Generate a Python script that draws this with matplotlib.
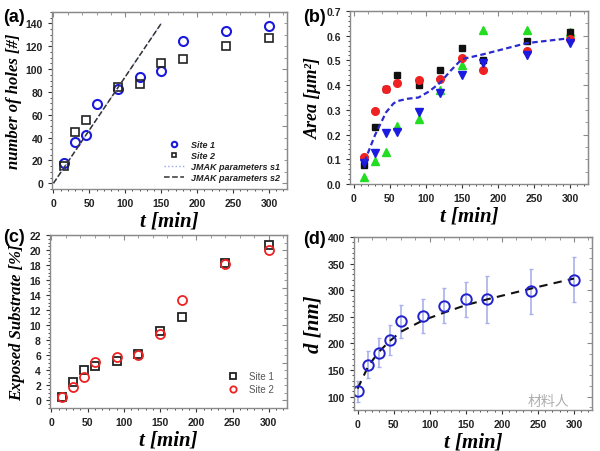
import numpy as np
import matplotlib
matplotlib.use('Agg')
import matplotlib.pyplot as plt

plt.rcParams['font.family'] = ['Liberation Sans', 'DejaVu Sans']
plt.rcParams['font.weight'] = 'bold'

# (a) number of holes
t_a1 = [15, 30, 45, 60, 90, 120, 150, 180, 240, 300]
holes_s1 = [18, 36, 42, 69, 83, 93, 98, 125, 133, 138]
t_a2 = [15, 30, 45, 90, 120, 150, 180, 240, 300]
holes_s2 = [15, 45, 55, 84, 87, 105, 109, 120, 127]
jmak_t = [0, 150]
jmak_s1 = [0, 140]
jmak_s2 = [0, 140]

# (b) area
t_b = [15, 30, 45, 60, 90, 120, 150, 180, 240, 300]
area_sq = [0.075, 0.23, 0.385, 0.44, 0.40, 0.46, 0.55, 0.50, 0.58, 0.615]
area_ci = [0.11, 0.295, 0.385, 0.41, 0.42, 0.425, 0.51, 0.46, 0.54, 0.585]
area_up = [0.03, 0.095, 0.13, 0.235, 0.265, 0.38, 0.48, 0.625, 0.625, 0.615]
area_dn = [0.085, 0.125, 0.205, 0.21, 0.29, 0.37, 0.44, 0.49, 0.52, 0.57]
mean_t = [15, 30, 45, 55, 60, 75, 90, 105, 120, 135, 150, 180, 240, 300]
mean_area = [0.09, 0.2, 0.29, 0.325, 0.335, 0.345, 0.35, 0.375, 0.41, 0.46, 0.505, 0.525, 0.57, 0.59]

# (c) exposed substrate
t_c = [15, 30, 45, 60, 90, 120, 150, 180, 240, 300]
exp_s1 = [0.5, 2.5, 4.1, 4.6, 5.3, 6.2, 9.2, 11.1, 18.3, 20.7]
exp_s2 = [0.4, 1.8, 3.1, 5.1, 5.8, 6.0, 8.8, 13.4, 18.1, 20.0]

# (d) diameter
t_d = [0, 15, 30, 45, 60, 90, 120, 150, 180, 240, 300]
d_val = [110, 160, 183, 207, 242, 251, 271, 283, 283, 298, 320]
d_err = [20, 25, 27, 28, 31, 32, 33, 33, 44, 42, 43]
fit_t = [0, 15, 30, 45, 60, 90, 120, 150, 180, 240, 300]
fit_d = [115, 158, 185, 205, 222, 243, 258, 272, 283, 303, 322]

fig = plt.figure(figsize=(6, 4.52), dpi=100)
W, H = 600, 452

def make_ax(l, r, t, b):
    return fig.add_axes([l / W, 1 - b / H, (r - l) / W, (b - t) / H])

lab_font = dict(family='Liberation Serif', weight='bold', style='italic')
frame = '#8a8a8a'

def style(ax, xlabel, ylabel, ylsize=13):
    for s in ax.spines.values():
        s.set_color(frame)
        s.set_linewidth(1.0)
    ax.tick_params(which='both', direction='out', colors='#333333', labelsize=7.5,
                   labelcolor='#222222', top=False, right=False)
    ax.tick_params(which='major', length=3)
    ax.tick_params(which='minor', length=1.5)
    ax.minorticks_on()
    sec = ax.secondary_yaxis('right')
    sec.tick_params(which='both', direction='in', labelright=False, colors=frame)
    sec.minorticks_on()
    sec.spines['right'].set_color(frame)
    sec2 = ax.secondary_xaxis('top')
    sec2.tick_params(which='both', direction='in', labeltop=False, colors=frame)
    sec2.minorticks_on()
    sec2.spines['top'].set_color(frame)
    ax.set_xlabel(xlabel, fontsize=15, labelpad=2, **lab_font)
    ax.set_ylabel(ylabel, fontsize=ylsize, labelpad=3, **lab_font)

# (a)
ax = make_ax(52, 287, 13, 190)
ax.plot(t_a1, holes_s1, 'o', ms=6.5, mfc='none', mec='#1a1adc', mew=1.5, label='Site 1')
ax.plot(t_a2, holes_s2, 's', ms=5.5, mfc='none', mec='#222222', mew=1.2, label='Site 2')
ax.plot(jmak_t, jmak_s1, ':', color='#9aa8e8', lw=1, label='JMAK parameters s1')
ax.plot(jmak_t, jmak_s2, '--', color='#333333', lw=1.1, label='JMAK parameters s2')
ax.set_xlim(-2, 325)
ax.set_ylim(-5, 150)
ax.set_xticks([0, 50, 100, 150, 200, 250, 300])
ax.set_yticks([0, 20, 40, 60, 80, 100, 120, 140])
style(ax, 't [min]', 'number of holes [#]', 12)
leg = ax.legend(loc='lower right', frameon=False, markerscale=0.6,
                handlelength=2.2, labelspacing=0.2, borderaxespad=0.4,
                prop=dict(family='Liberation Sans', weight='bold', style='italic', size=6.5))
for tx in leg.get_texts():
    tx.set_color('#222222')

# (b)
ax = make_ax(350, 588, 12, 185)
ax.plot(t_b, area_up, '^', ms=5.5, color='#22dd22', ls='none')
ax.plot(t_b, area_sq, 's', ms=5, color='#111111', ls='none')
ax.plot(t_b, area_ci, 'o', ms=5.5, color='#ee2222', ls='none')
ax.plot(t_b, area_dn, 'v', ms=5.5, color='#1a1ae0', ls='none')
ax.plot(mean_t, mean_area, '--', color='#2a2ad0', lw=1.6, dashes=(2.5, 1.5))
ax.set_xlim(-5, 325)
ax.set_ylim(0, 0.7)
ax.set_xticks([0, 50, 100, 150, 200, 250, 300])
ax.set_yticks(np.arange(0, 0.71, 0.1))
style(ax, 't [min]', 'Area [μm²]', 13)

# (c)
ax = make_ax(50, 287, 236, 409)
ax.plot(t_c, exp_s1, 's', ms=5.5, mfc='none', mec='#222222', mew=1.3, label='Site 1')
ax.plot(t_c, exp_s2, 'o', ms=6.5, mfc='none', mec='#ee2222', mew=1.3, label='Site 2')
ax.set_xlim(-2, 325)
ax.set_ylim(-1, 22)
ax.set_xticks([0, 50, 100, 150, 200, 250, 300])
ax.set_yticks(range(0, 23, 2))
style(ax, 't [min]', 'Exposed Substrate [%]', 12)
leg = ax.legend(loc='lower right', frameon=False, markerscale=0.7,
                handlelength=1.5, labelspacing=0.3, borderaxespad=1.0,
                prop=dict(family='Liberation Sans', weight='normal', size=7))
for tx in leg.get_texts():
    tx.set_color('#555555')

# (d)
ax = make_ax(354, 592, 238, 411)
ax.errorbar(t_d, d_val, yerr=d_err, fmt='none', ecolor='#aab0ee', elinewidth=1.2,
            capsize=1.5)
ax.plot(fit_t, fit_d, '--', color='#111111', lw=1.5, dashes=(4, 3))
ax.plot(t_d, d_val, 'o', ms=7.5, mfc='none', mec='#2222cc', mew=1.4)
ax.set_xlim(-5, 325)
ax.set_ylim(75, 400)
ax.set_xticks([0, 50, 100, 150, 200, 250, 300])
ax.set_yticks(range(100, 401, 50))
style(ax, 't [min]', 'd [nm]', 15)

# watermark (kept just above the tick labels)
fig.text(548 / W, 1 - 402 / H, '材料人', fontsize=10, color='#999999', alpha=0.8,
         family=['Noto Sans CJK SC', 'DejaVu Sans'], weight='normal', va='center', ha='center')

# panel labels
for lab, x, y in [('(a)', 3, 17), ('(b)', 303, 17), ('(c)', 3, 238), ('(d)', 303, 240)]:
    fig.text(x / W, 1 - y / H, lab, fontsize=13, fontweight='bold', va='center', ha='left')

fig.savefig('out.png', dpi=100)
